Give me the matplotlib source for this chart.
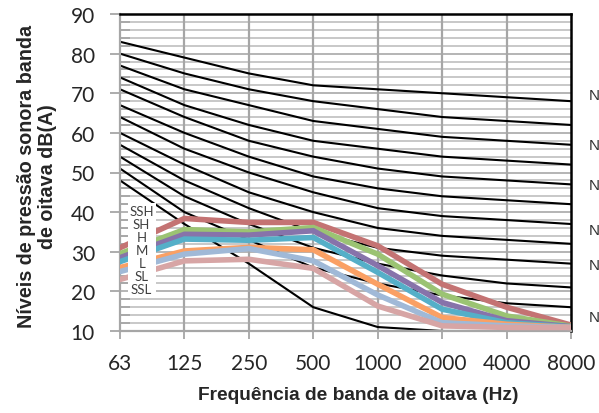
import numpy as np
import matplotlib
matplotlib.use("Agg")
from matplotlib import pyplot as plt
from matplotlib.patches import Rectangle

# bandas de oitava
freqs = ["63", "125", "250", "500", "1000", "2000", "4000", "8000"]

# curvas NC (NC-20 ... NC-70) e curva inferior
nc70 = [83, 79, 75, 72, 71, 70, 69, 68]
nc65 = [80, 75, 71, 68, 66, 64, 63, 62]
nc60 = [77, 71, 67, 63, 61, 59, 58, 57]
nc55 = [74, 67, 62, 58, 56, 54, 53, 52]
nc50 = [71, 64, 58, 54, 51, 49, 48, 47]
nc45 = [67, 60, 54, 49, 46, 44, 43, 42]
nc40 = [64, 56, 50, 45, 41, 39, 38, 37]
nc35 = [60, 52, 45, 40, 36, 34, 33, 32]
nc30 = [57, 48, 41, 35, 31, 29, 28, 27]
nc25 = [54, 44, 37, 31, 27, 24, 22, 21]
nc20 = [51, 40, 33, 26, 22, 19, 17, 16]
nc_low = [48, 37, 27, 16, 11, 10, 10, 10]
curvas_nc = [nc70, nc65, nc60, nc55, nc50, nc45, nc40, nc35, nc30, nc25, nc20, nc_low]

# rotulos a direita (cortados na borda da figura)
rot_nc = ["NC-70", "NC-60", "NC-50", "NC-40", "NC-30", "NC-20"]
rot_nc_y = [69.5, 57, 46.8, 35.4, 26.6, 13.6]

# niveis medidos
ssh = [31, 38.4, 37.4, 37.4, 31.5, 21.8, 16.0, 11.5]
sh = [29.5, 35.6, 35.0, 36.1, 29.4, 19.3, 13.8, 11.2]
h = [28.5, 34.4, 34.2, 35.3, 26.5, 17.2, 12.6, 11.1]
m = [27.5, 33.2, 32.9, 33.6, 24.8, 15.5, 12.1, 11.0]
l = [26.0, 30.2, 31.1, 30.5, 21.8, 13.4, 11.7, 10.9]
sl = [25.0, 29.4, 30.8, 27.7, 19.1, 12.1, 11.3, 10.9]
ssl = [23.0, 27.7, 28.1, 25.8, 16.3, 11.3, 10.9, 10.9]
series = [ssh, sh, h, m, l, sl, ssl]
nomes = ["SSH", "SH", "H", "M", "L", "SL", "SSL"]
cores = ["#C47373", "#9BC373", "#8773AA", "#55AFC8", "#FAA064", "#A0B9D7", "#D7A5A5"]

fig = plt.figure(figsize=(5.99, 4.14), dpi=100)
ax = fig.add_axes([120/599, 1-332/414, 451/599, 317/414])

x = np.arange(len(freqs))

# grade
for yy in np.arange(12, 90, 2):
    ax.axhline(yy, color="#C4C4C4", lw=1.3, zorder=1)
for yy in np.arange(20, 90, 10):
    ax.axhline(yy, color="#B4B4B4", lw=1.3, zorder=1)
for xx in x[1:-1]:
    ax.axvline(xx, color="#A6A6A6", lw=1.6, zorder=1)

for c in curvas_nc:
    ax.plot(x, c, color="black", lw=1.5, zorder=2)

for s, cor in zip(series, cores):
    ax.plot(x, s, color=cor, lw=4.0, zorder=3, solid_joinstyle="miter")

ax.set_xlim(0, 7)
ax.set_ylim(10, 90)
ax.set_xticks(x)
ax.set_xticklabels(freqs)
ax.set_yticks(np.arange(10, 91, 10))
ax.set_yticks(np.arange(10, 90, 2), minor=True)

fonte = "Lato"
for t in ax.get_xticklabels() + ax.get_yticklabels():
    t.set_fontfamily(fonte)
    t.set_fontsize(15)
    t.set_color("#262626")

ax.tick_params(axis="y", which="major", direction="out", length=7, width=1.3,
               color="#A6A6A6", pad=11)
ax.tick_params(axis="y", which="minor", direction="in", length=7, width=1.3,
               color="#A6A6A6")
ax.tick_params(axis="x", which="major", direction="out", length=6, width=1.3,
               color="#A6A6A6", pad=10)

ax.spines["left"].set_color("#A6A6A6")
ax.spines["bottom"].set_color("#A6A6A6")
ax.spines["left"].set_linewidth(1.6)
ax.spines["bottom"].set_linewidth(1.6)
ax.spines["top"].set_color("black")
ax.spines["right"].set_color("black")
ax.spines["top"].set_linewidth(1.8)
ax.spines["right"].set_linewidth(1.8)

rotulo = "Liberation Sans"
ax.set_xlabel("Frequência de banda de oitava (Hz)", fontsize=13.8,
              fontweight="bold", family=rotulo, color="#262626")
ax.xaxis.set_label_coords(0.528, -0.175)
ax.set_ylabel("Níveis de pressão sonora banda\nde oitava dB(A)", fontsize=14.2,
              fontweight="bold", family=rotulo, color="#262626", linespacing=1.15)
ax.yaxis.set_label_coords(-0.14, 0.49)

# legenda sem amostras, so os nomes
ax.add_patch(Rectangle((0.018, 0.115), 0.062, 0.29, transform=ax.transAxes,
                       facecolor="white", edgecolor="none", zorder=4))
for i, n in enumerate(nomes):
    ax.text(0.048, 0.378 - i*0.041, n, transform=ax.transAxes, ha="center",
            va="center", fontsize=9.5, family="Lato", color="#404040", zorder=5)

for r, yv in zip(rot_nc, rot_nc_y):
    ax.text(7.28, yv, r, ha="left", va="center", fontsize=11,
            family="Liberation Sans", color="#333333", clip_on=False)

fig.savefig("out.png", dpi=100)
